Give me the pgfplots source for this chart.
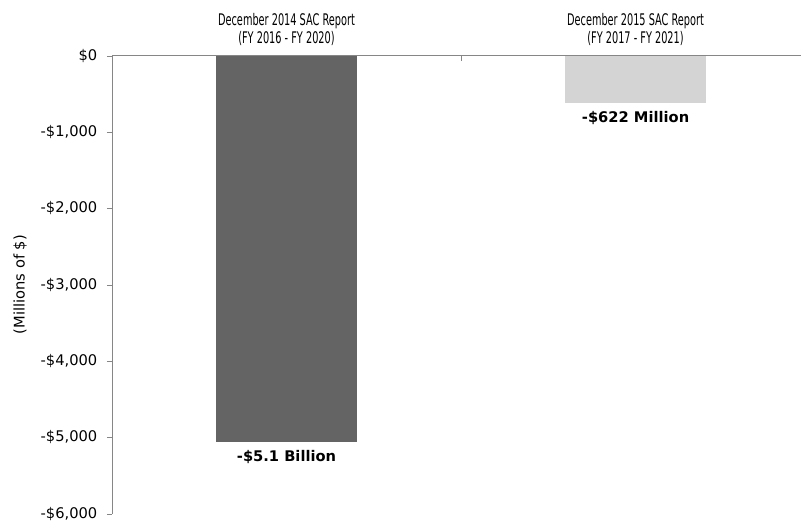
\documentclass[border=0pt]{standalone}
\usepackage{fontspec}
\setmainfont{DejaVu Sans}
\usepackage{pgfplots}
\pgfplotsset{compat=1.18}

\definecolor{axisgray}{HTML}{868686}
\definecolor{bardark}{HTML}{646464}
\definecolor{barlight}{HTML}{D4D4D4}
% the category titles are set in a narrow face in the original
\newcommand{\nar}[1]{\scalebox{0.61}[1]{#1}}

\begin{document}
\begin{tikzpicture}
\begin{axis}[
    scale only axis,
    width=516.75pt, height=343.5pt,
    clip=false,
    ybar, bar width=0.404, bar shift=0pt,
    xmin=-0.5, xmax=1.474,
    ymin=-6000, ymax=0,
    axis x line*=top, axis y line*=left,
    axis line style={axisgray},
    tick align=inside,
    major tick length=3.75pt,
    minor tick num=0,
    tick style={axisgray},
    ytick style={xshift=-3.75pt},
    xtick={0.5}, xticklabels={},
    ytick={-6000,-5000,-4000,-3000,-2000,-1000,0},
    yticklabels={{-\$6,000},{-\$5,000},{-\$4,000},{-\$3,000},{-\$2,000},{-\$1,000},{\$0}},
    yticklabel style={font=\fontsize{11}{13}\selectfont, xshift=-7.5pt},
    ylabel={(Millions of \$)},
    ylabel style={at={(axis description cs:-0.1335,0.5)}, anchor=center,
                  font=\fontsize{11}{13}\selectfont},
    point meta=explicit symbolic,
    nodes near coords,
    nodes near coords style={font=\bfseries\fontsize{11}{13}\selectfont,
                             anchor=center, yshift=-11.25pt, black},
]
\addplot[fill=bardark, draw=none] coordinates {(0,-5060) [-\$5.1 Billion]};
\addplot[fill=barlight, draw=none] coordinates {(1,-622) [-\$622 Million]};

\node[align=center, anchor=south, inner sep=0pt, yshift=7.5pt,
      font=\fontsize{12}{13.5}\selectfont] at (axis cs:0,0)
      {\nar{December 2014 SAC Report}\\\nar{(FY 2016 - FY 2020)}};
\node[align=center, anchor=south, inner sep=0pt, yshift=7.5pt,
      font=\fontsize{12}{13.5}\selectfont] at (axis cs:1,0)
      {\nar{December 2015 SAC Report}\\\nar{(FY 2017 - FY 2021)}};
\end{axis}
\pgfresetboundingbox
\useasboundingbox (-84pt,-5.5pt) rectangle (516.75pt,385.25pt);
\end{tikzpicture}
\end{document}
